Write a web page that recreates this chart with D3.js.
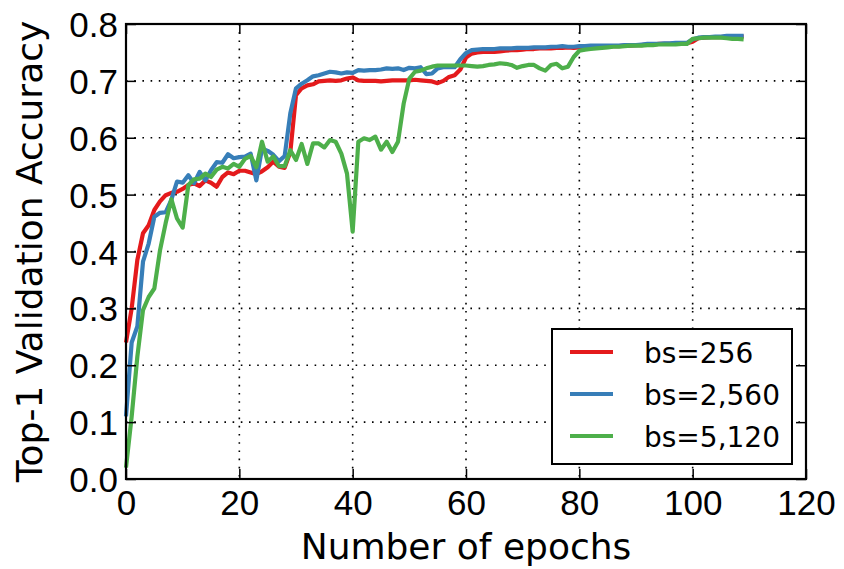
<!DOCTYPE html>
<html>
<head>
<meta charset="utf-8">
<script src="https://cdn.jsdelivr.net/npm/d3@7"></script>
<style>
  html, body { margin: 0; padding: 0; background: #fff; }
  svg { display: block; font-family: "DejaVu Sans", sans-serif; }
</style>
</head>
<body>
<svg id="chart" width="844" height="569"></svg>
<script>
// Top-1 validation accuracy per epoch for three batch sizes
const epochs = d3.range(0, 110);

const acc256 = [
  0.240, 0.300, 0.385, 0.432, 0.446, 0.473, 0.488, 0.499, 0.503, 0.505,
  0.510, 0.517, 0.520, 0.515, 0.525, 0.521, 0.514, 0.531, 0.539, 0.536,
  0.542, 0.542, 0.539, 0.536, 0.541, 0.548, 0.558, 0.549, 0.547, 0.575,
  0.675, 0.687, 0.692, 0.694, 0.699, 0.700, 0.701, 0.700, 0.701, 0.704,
  0.706, 0.701, 0.700, 0.700, 0.700, 0.699, 0.700, 0.701, 0.701, 0.701,
  0.701, 0.702, 0.701, 0.700, 0.699, 0.696, 0.700, 0.707, 0.710, 0.720,
  0.741, 0.748, 0.750, 0.751, 0.751, 0.751, 0.752, 0.753, 0.754, 0.754,
  0.755, 0.756, 0.756, 0.757, 0.757, 0.757, 0.758, 0.758, 0.759, 0.758,
  0.759, 0.760, 0.760, 0.760, 0.760, 0.761, 0.761, 0.761, 0.762, 0.762,
  0.763, 0.763, 0.764, 0.764, 0.765, 0.765, 0.765, 0.766, 0.766, 0.766,
  0.769, 0.775, 0.776, 0.777, 0.777, 0.777, 0.778, 0.778, 0.778, 0.778
];

const acc2560 = [
  0.110, 0.240, 0.268, 0.382, 0.414, 0.461, 0.468, 0.469, 0.491, 0.523,
  0.521, 0.534, 0.520, 0.540, 0.525, 0.543, 0.557, 0.556, 0.571, 0.564,
  0.566, 0.567, 0.572, 0.525, 0.581, 0.577, 0.570, 0.559, 0.568, 0.643,
  0.687, 0.695, 0.701, 0.708, 0.710, 0.713, 0.716, 0.715, 0.713, 0.715,
  0.714, 0.719, 0.718, 0.719, 0.719, 0.720, 0.722, 0.721, 0.722, 0.719,
  0.723, 0.722, 0.724, 0.712, 0.713, 0.722, 0.724, 0.724, 0.724, 0.738,
  0.749, 0.754, 0.755, 0.756, 0.756, 0.756, 0.757, 0.757, 0.757, 0.758,
  0.758, 0.758, 0.759, 0.759, 0.759, 0.760, 0.760, 0.761, 0.760, 0.760,
  0.761, 0.761, 0.762, 0.762, 0.762, 0.762, 0.762, 0.762, 0.763, 0.763,
  0.763, 0.764, 0.765, 0.765, 0.765, 0.766, 0.766, 0.767, 0.767, 0.767,
  0.773, 0.776, 0.777, 0.777, 0.778, 0.778, 0.779, 0.779, 0.779, 0.779
];

const acc5120 = [
  0.020, 0.110, 0.215, 0.297, 0.320, 0.335, 0.402, 0.450, 0.492, 0.458,
  0.442, 0.517, 0.527, 0.528, 0.537, 0.531, 0.544, 0.549, 0.546, 0.554,
  0.549, 0.563, 0.568, 0.548, 0.593, 0.558, 0.567, 0.550, 0.550, 0.578,
  0.561, 0.589, 0.554, 0.590, 0.590, 0.583, 0.596, 0.593, 0.572, 0.537,
  0.435, 0.593, 0.599, 0.596, 0.602, 0.579, 0.593, 0.575, 0.593, 0.660,
  0.704, 0.716, 0.718, 0.722, 0.725, 0.727, 0.727, 0.727, 0.727, 0.727,
  0.727, 0.726, 0.725, 0.726, 0.728, 0.729, 0.731, 0.730, 0.728, 0.723,
  0.726, 0.728, 0.728, 0.722, 0.718, 0.728, 0.730, 0.722, 0.725, 0.742,
  0.753, 0.755, 0.756, 0.757, 0.758, 0.759, 0.760, 0.760, 0.761, 0.762,
  0.762, 0.762, 0.763, 0.763, 0.764, 0.764, 0.764, 0.764, 0.765, 0.765,
  0.774, 0.775, 0.776, 0.776, 0.776, 0.776, 0.775, 0.774, 0.774, 0.773
];

const seriesNames = ["bs=256", "bs=2,560", "bs=5,120"];
const seriesColors = ["#e41a1c", "#377eb8", "#4daf4a"];
const seriesValues = [acc256, acc2560, acc5120];

const xTicks = [0, 20, 40, 60, 80, 100, 120];
const yTicks = [0.0, 0.1, 0.2, 0.3, 0.4, 0.5, 0.6, 0.7, 0.8];

const svg = d3.select("#chart");
const W = 844, H = 569;
const margin = { left: 126, top: 24, right: 38, bottom: 90 };
const iw = W - margin.left - margin.right;
const ih = H - margin.top - margin.bottom;

const x = d3.scaleLinear().domain([0, 120]).range([0, iw]);
const y = d3.scaleLinear().domain([0, 0.8]).range([ih, 0]);

const g = svg.append("g").attr("transform", `translate(${margin.left},${margin.top})`);

// dotted grid
const grid = g.append("g").attr("class", "grid");
grid.selectAll("line.gx").data(xTicks.slice(1, -1)).join("line")
  .attr("x1", d => x(d)).attr("x2", d => x(d))
  .attr("y1", 0).attr("y2", ih)
  .attr("stroke", "#000").attr("stroke-width", 1.6)
  .attr("stroke-dasharray", "1.6,6.6");
grid.selectAll("line.gy").data(yTicks.slice(1, -1)).join("line")
  .attr("x1", 0).attr("x2", iw)
  .attr("y1", d => y(d)).attr("y2", d => y(d))
  .attr("stroke", "#000").attr("stroke-width", 1.6)
  .attr("stroke-dasharray", "1.6,6.6");

// series lines
const line = d3.line()
  .x((d, i) => x(epochs[i]))
  .y(d => y(d));

g.append("g").attr("class", "series")
  .selectAll("path").data(seriesValues).join("path")
  .attr("d", d => line(d))
  .attr("fill", "none")
  .attr("stroke", (d, i) => seriesColors[i])
  .attr("stroke-width", 4.2)
  .attr("stroke-linejoin", "round")
  .attr("stroke-linecap", "butt");

// axes with inward ticks on all four sides
const tickLen = 10;
const fmtY = d3.format(".1f");

const axBottom = g.append("g").attr("transform", `translate(0,${ih})`)
  .call(d3.axisBottom(x).tickValues(xTicks).tickSize(-tickLen).tickPadding(0).tickFormat(d3.format("d")));
const axTop = g.append("g")
  .call(d3.axisTop(x).tickValues(xTicks).tickSize(-tickLen).tickFormat(""));
const axLeft = g.append("g")
  .call(d3.axisLeft(y).tickValues(yTicks).tickSize(-tickLen).tickPadding(0).tickFormat(fmtY));
const axRight = g.append("g").attr("transform", `translate(${iw},0)`)
  .call(d3.axisRight(y).tickValues(yTicks).tickSize(-tickLen).tickFormat(""));

[axBottom, axTop, axLeft, axRight].forEach(a => {
  a.select(".domain").remove();
  a.selectAll(".tick line").attr("stroke", "#000").attr("stroke-width", 1.5);
});

axBottom.selectAll(".tick text")
  .attr("font-size", 35).attr("fill", "#000")
  .attr("dy", null).attr("y", 36);
axLeft.selectAll(".tick text")
  .attr("font-size", 35).attr("fill", "#000")
  .attr("x", -8).attr("dy", "0.36em");

// frame
g.append("rect")
  .attr("x", 0).attr("y", 0).attr("width", iw).attr("height", ih)
  .attr("fill", "none").attr("stroke", "#000").attr("stroke-width", 2.2);

// axis titles
svg.append("text")
  .attr("x", margin.left + iw / 2).attr("y", 559)
  .attr("text-anchor", "middle").attr("font-size", 36).attr("fill", "#000")
  .text("Number of epochs");
svg.append("text")
  .attr("transform", `translate(42,${margin.top + ih / 2}) rotate(-90)`)
  .attr("text-anchor", "middle").attr("font-size", 36).attr("fill", "#000")
  .text("Top-1 Validation Accuracy");

// legend
const lg = svg.append("g").attr("transform", "translate(552,329)");
lg.append("rect").attr("width", 240).attr("height", 135)
  .attr("fill", "#fff").attr("stroke", "#000").attr("stroke-width", 2);
const items = lg.selectAll("g.item").data(seriesNames).join("g")
  .attr("transform", (d, i) => `translate(0,${23 + i * 42})`);
items.append("line")
  .attr("x1", 18).attr("x2", 61).attr("y1", 0).attr("y2", 0)
  .attr("stroke", (d, i) => seriesColors[i]).attr("stroke-width", 4.2);
items.append("text")
  .attr("x", 92).attr("y", 11)
  .attr("font-size", 28).attr("fill", "#000")
  .text(d => d);
</script>
</body>
</html>
